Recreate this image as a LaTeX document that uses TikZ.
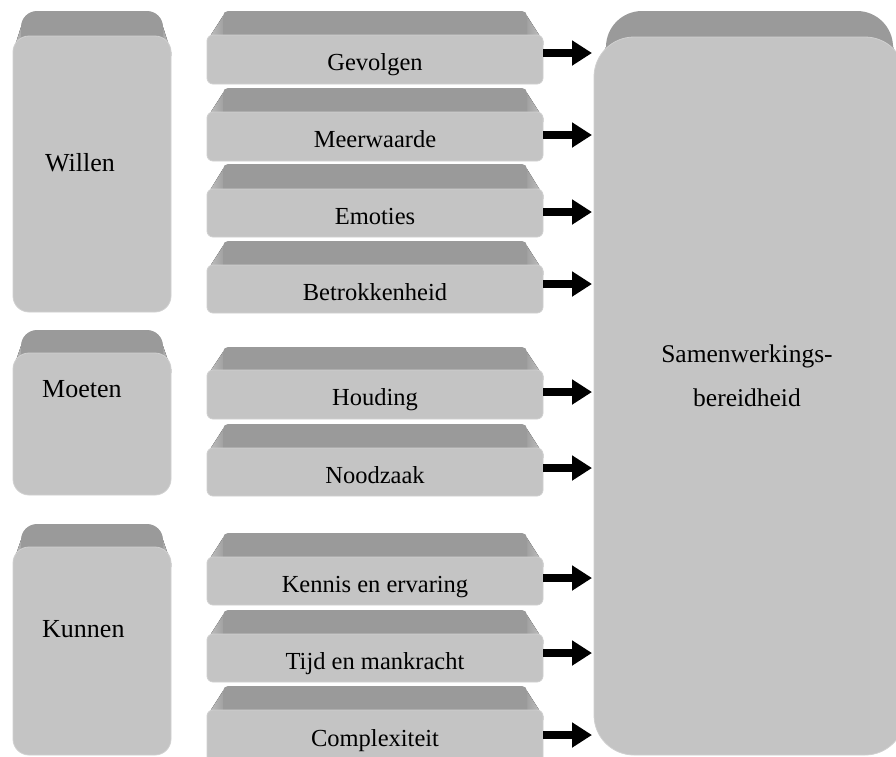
\documentclass[tikz,border=0pt]{standalone}
\usepackage{fontspec}
\setmainfont{Liberation Serif}
\usetikzlibrary{arrows.meta}
\definecolor{facegray}{HTML}{C4C4C4}
\definecolor{bevdark}{HTML}{9A9A9A}
\definecolor{bevlight}{HTML}{C2C2C2}
\definecolor{edgegray}{HTML}{D0D0D0}
% #1 name, #2 L, #3 R, #4 bevel top, #5 face top, #6 face bottom, #7 inset, #8 face radius, #9 bevel radius
\newcommand\keybox[9]{%
  \fill[left color=bevlight,right color=bevdark] (#2,#5+#8+4) -- (#2,#5+#8) -- (#2+#7,#4+#9) -- (#2+#7+4,#5+#8+4) -- cycle;
  \fill[left color=bevdark,right color=bevlight] (#3,#5+#8+4) -- (#3,#5+#8) -- (#3-#7,#4+#9) -- (#3-#7-4,#5+#8+4) -- cycle;
  \fill[bevdark, rounded corners=#9] (#2+#7,#4) rectangle (#3-#7,#5+#8+4);
  \node[face, rounded corners=#8, minimum width={(#3-#2)*1pt}, minimum height={(#6-#5)*1pt}, anchor=north west] (#1) at (#2,#5) {};
}
\begin{document}
\begin{tikzpicture}[x=1pt,y=-1pt,
  face/.style={fill=facegray, draw=edgegray, line width=0.8pt, inner sep=0pt, outer sep=0pt},
  midlabel/.style={anchor=base, inner sep=0pt, font=\fontsize{24.5}{28}\selectfont},
  sidelabel/.style={anchor=base west, inner sep=0pt, font=\fontsize{26}{30}\selectfont},
  biglabel/.style={anchor=base, inner sep=0pt, font=\fontsize{25.5}{30}\selectfont},
  arr/.style={line width=8pt, -{Triangle[length=20pt 0 0, width=24pt 0 0]}, shorten >=2pt}]
\useasboundingbox (0,0) rectangle (896,756);

% left column
\keybox{willen}{13}{171}{11}{36}{312}{8}{16}{16}
\keybox{moeten}{13}{171}{330}{353}{495}{8}{16}{16}
\keybox{kunnen}{13}{171}{524}{547}{755}{8}{16}{16}

% big box
\keybox{big}{594}{905}{11}{37}{755}{12}{40}{36}

% middle column
\keybox{g}{207}{543}{11}{35}{84}{16}{6}{5}
\keybox{m}{207}{543}{88}{112}{161}{16}{6}{5}
\keybox{e}{207}{543}{164}{189}{237}{16}{6}{5}
\keybox{b}{207}{543}{241}{265}{313}{16}{6}{5}
\keybox{h}{207}{543}{347}{370}{419}{16}{6}{5}
\keybox{n}{207}{543}{424}{448}{496}{16}{6}{5}
\keybox{k}{207}{543}{533}{557}{605}{16}{6}{5}
\keybox{t}{207}{543}{610}{634}{682}{16}{6}{5}
\keybox{c}{207}{543}{686}{710}{765}{16}{6}{5}

% labels
\node[sidelabel] (lw) at (45,171) {Willen};
\node[sidelabel] (lm) at (42,397) {Moeten};
\node[sidelabel] (lk) at (42,637) {Kunnen};
\node[biglabel] (ls1) at (747,362) {Samenwerkings-};
\node[biglabel] (ls2) at (747,406) {bereidheid};

\node[midlabel] (tg) at (375,70) {Gevolgen};
\node[midlabel] (tm) at (375,147) {Meerwaarde};
\node[midlabel] (te) at (375,224) {Emoties};
\node[midlabel] (tb) at (375,300) {Betrokkenheid};
\node[midlabel] (th) at (375,405) {Houding};
\node[midlabel] (tn) at (375,483) {Noodzaak};
\node[midlabel] (tk) at (375,592) {Kennis en ervaring};
\node[midlabel] (tt) at (375,669) {Tijd en mankracht};
\node[midlabel] (tc) at (375,746) {Complexiteit};

% arrows
\coordinate (yg) at (0,53);
\coordinate (ym) at (0,135);
\coordinate (ye) at (0,212);
\coordinate (yb) at (0,284);
\coordinate (yh) at (0,392);
\coordinate (yn) at (0,468);
\coordinate (yk) at (0,578);
\coordinate (yt) at (0,653);
\coordinate (yc) at (0,735);
\draw[arr] (yg -| g.east) -- (yg -| big.west);
\draw[arr] (ym -| m.east) -- (ym -| big.west);
\draw[arr] (ye -| e.east) -- (ye -| big.west);
\draw[arr] (yb -| b.east) -- (yb -| big.west);
\draw[arr] (yh -| h.east) -- (yh -| big.west);
\draw[arr] (yn -| n.east) -- (yn -| big.west);
\draw[arr] (yk -| k.east) -- (yk -| big.west);
\draw[arr] (yt -| t.east) -- (yt -| big.west);
\draw[arr] (yc -| c.east) -- (yc -| big.west);
\end{tikzpicture}
\end{document}
